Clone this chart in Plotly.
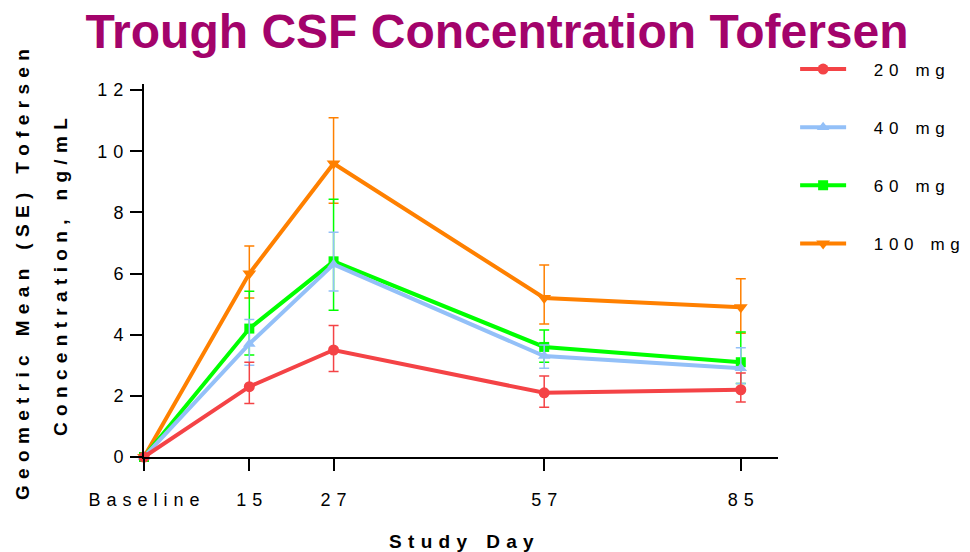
import plotly.graph_objects as go

# ---- data ----
days = [0, 15, 27, 57, 85]
x_tick_vals = [0, 15, 27, 57, 85]
x_tick_labels = ["Baseline", "15", "27", "57", "85"]
y_tick_vals = [0, 2, 4, 6, 8, 10, 12]

dose_names = ["20 mg", "40 mg", "60 mg", "100 mg"]
mean_20 = [0, 2.3, 3.5, 2.1, 2.2]
upper_20 = [0, 3.1, 4.3, 2.65, 2.75]
lower_20 = [0, 1.75, 2.8, 1.63, 1.8]

mean_40 = [0, 3.7, 6.3, 3.3, 2.9]
upper_40 = [0, 4.5, 7.35, 3.66, 3.57]
lower_40 = [0, 3.0, 5.43, 2.9, 2.4]

mean_60 = [0, 4.2, 6.4, 3.6, 3.1]
upper_60 = [0, 5.42, 8.43, 4.15, 4.09]
lower_60 = [0, 3.34, 4.8, 3.1, 2.4]

mean_100 = [0, 6.0, 9.6, 5.2, 4.9]
upper_100 = [0, 6.9, 11.1, 6.28, 5.83]
lower_100 = [0, 5.2, 8.3, 4.35, 4.05]

SP = "\u2004"  # three-per-em space used as letter spacing


def spaced(s, gap=SP, wordgap=SP * 3):
    words = s.split(" ")
    return wordgap.join(gap.join(list(w)) for w in words)


series = [
    ("100 mg", mean_100, upper_100, lower_100, "#FF8000", "triangle-down", 12, 4),
    ("60 mg", mean_60, upper_60, lower_60, "#00FF00", "square", 10, 3),
    ("40 mg", mean_40, upper_40, lower_40, "#93C0F8", "triangle-up", 11, 2),
    ("20 mg", mean_20, upper_20, lower_20, "#F44346", "circle", 11, 1),
]

fig = go.Figure()
for name, m, up, lo, col, sym, sz, rank in series:
    fig.add_trace(go.Scatter(
        x=days, y=m, mode="lines+markers",
        name=SP * 4 + spaced(name, gap=SP, wordgap=SP * 3),
        legendgroup=name, legendrank=rank,
        line=dict(color=col, width=4),
        marker=dict(symbol=sym, size=sz, color=col),
        error_y=dict(type="data", symmetric=False,
                     array=[u - v for u, v in zip(up, m)],
                     arrayminus=[v - l for v, l in zip(m, lo)],
                     color=col, thickness=1.5, width=5),
        cliponaxis=False,
    ))

fig.update_layout(
    width=970, height=552,
    margin=dict(l=144, r=192, t=84, b=95, autoexpand=False),
    paper_bgcolor="white", plot_bgcolor="white",
    font=dict(family="Liberation Sans, Arial, sans-serif", color="black"),
    title=dict(text="<b>Trough CSF Concentration Tofersen</b>",
               font=dict(size=48, color="#A3036B",
                         family="Liberation Sans, Arial, sans-serif"),
               x=497 / 970, xanchor="center", xref="container",
               y=1 - 31 / 552, yanchor="middle", yref="container"),
    showlegend=True,
    legend=dict(x=1.027, xanchor="left", y=1.087, yanchor="top",
                font=dict(size=17, color="black"),
                tracegroupgap=33, itemwidth=46,
                bgcolor="rgba(0,0,0,0)"),
    xaxis=dict(range=[0, 90.3], tickmode="array", tickvals=x_tick_vals,
               ticktext=[spaced(t) for t in x_tick_labels],
               showline=True, linecolor="black", linewidth=2,
               ticks="outside", ticklen=12, tickwidth=2, tickcolor="black",
               showgrid=False, zeroline=False,
               tickfont=dict(size=18), ticklabelstandoff=13),
    yaxis=dict(range=[0, 12.2], tickmode="array", tickvals=y_tick_vals,
               ticktext=[spaced(str(v)) for v in y_tick_vals],
               showline=True, linecolor="black", linewidth=2,
               ticks="outside", ticklen=12, tickwidth=2, tickcolor="black",
               showgrid=False, zeroline=False,
               tickfont=dict(size=18), ticklabelstandoff=3),
)

fig.add_annotation(text="<b>" + spaced("Study Day") + "</b>",
                   xref="paper", yref="paper", x=0.5, y=-84 / 373,
                   xanchor="center", yanchor="middle", showarrow=False,
                   font=dict(size=19))
fig.add_annotation(text="<b>" + spaced("Geometric Mean (SE) Tofersen") + "</b>",
                   xref="paper", yref="paper", x=-122 / 634, y=(457 - 275) / 373,
                   xanchor="center", yanchor="middle", showarrow=False,
                   textangle=-90, font=dict(size=19))
fig.add_annotation(text="<b>" + spaced("Concentration, ng/mL") + "</b>",
                   xref="paper", yref="paper", x=-84 / 634, y=(457 - 277) / 373,
                   xanchor="center", yanchor="middle", showarrow=False,
                   textangle=-90, font=dict(size=19))

fig.write_html("out.html")
